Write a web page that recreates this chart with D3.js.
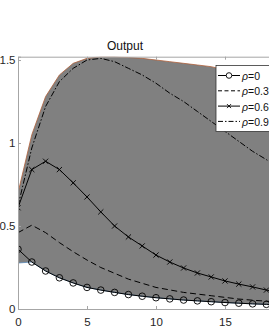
<!DOCTYPE html>
<html><head><meta charset="utf-8">
<script src="https://cdn.jsdelivr.net/npm/d3@7"></script>
<style>body{margin:0;background:#fff;}svg{display:block;font-family:"Liberation Sans",Arial,sans-serif;}</style>
</head><body>
<svg id="c" width="269" height="329"></svg>
<script>
const periods = d3.range(0, 21);
const rho0  = [0.36,0.283,0.229,0.188,0.157,0.13,0.114,0.1,0.087,0.077,0.068,0.061,0.054,0.049,0.044,0.039,0.035,0.031,0.028,0.025,0.022];
const rho03 = [0.46,0.505,0.46,0.40,0.345,0.295,0.25,0.215,0.18,0.155,0.13,0.115,0.10,0.09,0.08,0.07,0.06,0.053,0.047,0.042,0.037];
const rho06 = [0.61,0.84,0.89,0.84,0.76,0.675,0.585,0.50,0.434,0.38,0.325,0.283,0.247,0.217,0.193,0.169,0.15,0.133,0.114,0.10,0.09];
const rho09 = [0.62,0.97,1.22,1.37,1.45,1.50,1.51,1.49,1.45,1.41,1.36,1.30,1.25,1.19,1.13,1.07,1.01,0.95,0.90,0.84,0.79];
const bandUpper = [0.70,1.05,1.28,1.41,1.48,1.51,1.52,1.52,1.515,1.51,1.50,1.49,1.48,1.47,1.46,1.44,1.43,1.42,1.41,1.40,1.38];
const bandLower = [0.277,0.283,0.229,0.188,0.157,0.13,0.114,0.1,0.087,0.077,0.068,0.061,0.054,0.049,0.044,0.039,0.035,0.031,0.028,0.025,0.022];
const xTicks = [0,5,10,15];
const yTicks = [0,0.5,1,1.5];
const legendLabels = ["0","0.3","0.6","0.9"];
const title = "Output";

const svg = d3.select("#c");
const x = d3.scaleLinear().domain([0,20]).range([18,294]);
const y = d3.scaleLinear().domain([0,1.52]).range([309,56.7]);

svg.append("clipPath").attr("id","pc").append("rect")
  .attr("x",18).attr("y",56.7).attr("width",276).attr("height",309-56.7);
const g = svg.append("g").attr("clip-path","url(#pc)");

// band
const area = d3.area().x((d,i)=>x(periods[i])).y0((d,i)=>y(bandLower[i])).y1(d=>y(d));
g.append("path").datum(bandUpper).attr("d",area).attr("fill","#808080");
const ln = arr => d3.line().x((d,i)=>x(periods[i])).y(d=>y(d))(arr);
g.append("path").attr("d",ln(bandUpper)).attr("fill","none").attr("stroke","#b0603a").attr("stroke-width",0.8);
g.append("path").attr("d",ln(bandLower)).attr("fill","none").attr("stroke","#4a80b4").attr("stroke-width",0.7);

// series
g.append("path").attr("d",ln(rho09)).attr("fill","none").attr("stroke","#000").attr("stroke-width",1).attr("stroke-dasharray","6,2,1.5,2");
g.append("path").attr("d",ln(rho03)).attr("fill","none").attr("stroke","#000").attr("stroke-width",1).attr("stroke-dasharray","6,3.5");
g.append("path").attr("d",ln(rho06)).attr("fill","none").attr("stroke","#000").attr("stroke-width",1);
g.append("path").attr("d",ln(rho0)).attr("fill","none").attr("stroke","#000").attr("stroke-width",1);
g.selectAll("circle.m").data(rho0).join("circle").attr("class","m")
  .attr("cx",(d,i)=>x(periods[i])).attr("cy",d=>y(d)).attr("r",3.3)
  .attr("fill","none").attr("stroke","#000").attr("stroke-width",0.9);
g.selectAll("path.x").data(rho06).join("path").attr("class","x")
  .attr("d",(d,i)=>{const cx=x(periods[i]),cy=y(d),s=2.6;return `M${cx-s},${cy-s}L${cx+s},${cy+s}M${cx-s},${cy+s}L${cx+s},${cy-s}`;})
  .attr("stroke","#000").attr("stroke-width",0.9);

// axes
const axCol = "#a6a6a6";
const xb = svg.append("g").attr("transform","translate(0,309)")
  .call(d3.axisBottom(x).tickValues(xTicks).tickSize(-3).tickPadding(6).tickFormat(d3.format("d")));
const xt = svg.append("g").attr("transform","translate(0,56.7)")
  .call(d3.axisTop(x).tickValues(xTicks).tickSize(-3).tickFormat(""));
const yl = svg.append("g").attr("transform","translate(18,0)")
  .call(d3.axisLeft(y).tickValues(yTicks).tickSize(-3).tickPadding(2.5).tickFormat(d=>d3.format("")(d)));
[xb,xt,yl].forEach(a=>{
  a.select(".domain").attr("stroke",axCol).attr("stroke-width",1);
  a.selectAll(".tick line").attr("stroke",axCol);
  a.selectAll("text").attr("fill","#262626").attr("font-size",11.5).attr("font-family","'Liberation Sans',Arial,sans-serif");
});
yl.selectAll("text").attr("x",-2.5);
xb.selectAll("text").attr("y",17).attr("dy",0);

svg.append("text").attr("x",125).attr("y",50).attr("text-anchor","middle")
  .attr("font-size",12).attr("fill","#111").text(title);

// legend
const lg = svg.append("g").attr("transform","translate(216,65.5)");
lg.append("rect").attr("width",70).attr("height",66).attr("fill","#fff").attr("stroke","#333").attr("stroke-width",0.8);
const dashes = [null,"4,2.5",null,"5,2,1.5,2"];
legendLabels.forEach((lab,i)=>{
  const yy = 10 + i*15.3;
  lg.append("line").attr("x1",2).attr("x2",24).attr("y1",yy).attr("y2",yy).attr("stroke","#000").attr("stroke-width",1)
    .attr("stroke-dasharray",dashes[i]);
  if(i===0) lg.append("circle").attr("cx",13).attr("cy",yy).attr("r",2.8).attr("fill","#fff").attr("stroke","#000").attr("stroke-width",0.9);
  if(i===2) lg.append("path").attr("d",`M11,${yy-2}L15,${yy+2}M11,${yy+2}L15,${yy-2}`).attr("stroke","#000").attr("stroke-width",0.9);
  const t = lg.append("text").attr("x",26).attr("y",yy+4.5).attr("font-size",10.5).attr("fill","#111");
  t.append("tspan").attr("font-style","italic").text("ρ");
  t.append("tspan").text("=" + lab);
});
</script>
</body></html>
